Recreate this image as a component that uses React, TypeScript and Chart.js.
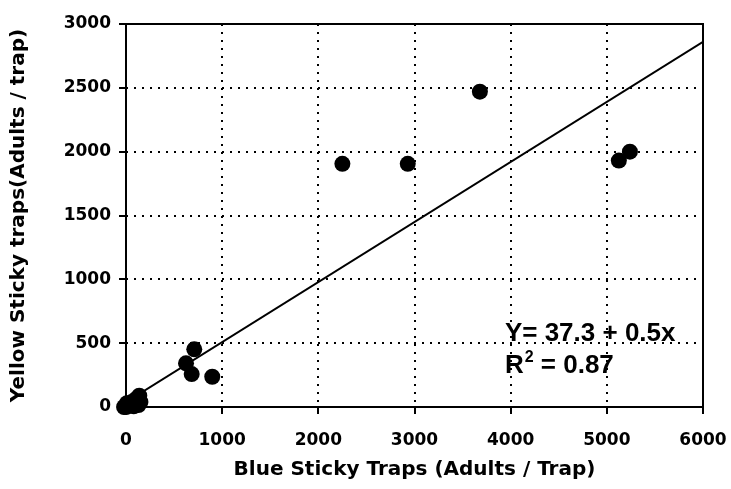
import React, { useEffect, useRef } from "react";
import { Chart, registerables } from "chart.js";

Chart.register(...registerables);

const blueX = [2250, 2930, 3680, 5125, 5240, 710, 624, 683, 897, 138, 100, 60, 20, 0, 40, 110, 130, 80, 10, -20, 150];
const yellowY = [1905, 1905, 2470, 1930, 2000, 452, 342, 258, 237, 89, 60, 40, 10, 0, 15, 20, 15, 5, 30, 0, 40];

const fitX = [0, 6000];
const fitY = [37.3, 2860];

const xTitle = "Blue Sticky Traps (Adults / Trap)";
const yTitle = "Yellow Sticky traps(Adults / trap)";
const eqText = "Y= 37.3 + 0.5x";
const r2Value = " = 0.87";

const ANNO_X = 3940;
const ANNO_Y1 = 520;
const ANNO_Y2 = 266;

const TICK_FONT = { family: "'DejaVu Sans'", size: 17, weight: "bold" as const };
const TITLE_FONT = { family: "'DejaVu Sans'", size: 20, weight: "bold" as const };

const framePlugin = {
  id: "frame",
  beforeDatasetsDraw(chart: any) {
    const { ctx, chartArea } = chart;
    ctx.save();
    ctx.strokeStyle = "#000";
    ctx.lineWidth = 2;
    ctx.setLineDash([]);
    ctx.strokeRect(chartArea.left, chartArea.top, chartArea.right - chartArea.left, chartArea.bottom - chartArea.top);
    ctx.restore();
  },
};

const annoPlugin = {
  id: "anno",
  afterDatasetsDraw(chart: any) {
    const { ctx, scales } = chart;
    const x = scales.x.getPixelForValue(ANNO_X);
    const y1 = scales.y.getPixelForValue(ANNO_Y1);
    const y2 = scales.y.getPixelForValue(ANNO_Y2);
    ctx.save();
    ctx.fillStyle = "#000";
    ctx.textBaseline = "alphabetic";
    ctx.textAlign = "left";
    ctx.font = "bold 26px 'Liberation Sans', Arial";
    ctx.fillText(eqText, x, y1);
    ctx.fillText("R", x, y2);
    const rw = ctx.measureText("R").width;
    ctx.font = "bold 16px 'Liberation Sans', Arial";
    ctx.fillText("2", x + rw + 1, y2 - 11);
    const sw = ctx.measureText("2").width;
    ctx.font = "bold 26px 'Liberation Sans', Arial";
    ctx.fillText(r2Value, x + rw + sw + 1, y2);
    ctx.restore();
  },
};

export default function App() {
  const ref = useRef<HTMLCanvasElement | null>(null);
  useEffect(() => {
    if (!ref.current) return;
    const edgeColor = (n: number) => (c: any) =>
      c.index === 0 || c.index === n ? "rgba(0,0,0,0)" : "#000";
    const chart = new Chart(ref.current, {
      type: "scatter",
      data: {
        datasets: [
          {
            type: "line",
            data: fitX.map((x, i) => ({ x, y: fitY[i] })),
            borderColor: "#000",
            borderWidth: 2,
            pointRadius: 0,
            fill: false,
          } as any,
          {
            data: blueX.map((x, i) => ({ x, y: yellowY[i] })),
            backgroundColor: "#000",
            borderColor: "#000",
            pointRadius: 8,
            pointBorderWidth: 0,
            clip: false,
          } as any,
        ],
      },
      options: {
        responsive: false,
        animation: false,
        layout: { padding: { top: 24, right: 28, left: 0, bottom: 0 } },
        plugins: { legend: { display: false }, tooltip: { enabled: false } },
        scales: {
          x: {
            type: "linear",
            min: 0,
            max: 6000,
            afterFit: (s: any) => {
              s.height = 82;
              s.paddingLeft = 0;
              s.paddingRight = 0;
            },
            ticks: {
              stepSize: 1000,
              color: "#000",
              font: TICK_FONT,
              padding: 16,
              maxRotation: 0,
              callback: (v: any) => String(v),
            },
            grid: {
              color: edgeColor(6),
              lineWidth: 2,
              tickLength: 7,
              tickColor: "#000",
              tickWidth: 2,
              tickBorderDash: [],
            },
            border: { display: false, dash: [2, 6] },
            title: { display: true, text: xTitle, color: "#000", font: TITLE_FONT, padding: { top: 0, bottom: 7 } },
          },
          y: {
            type: "linear",
            min: 0,
            max: 3000,
            afterFit: (s: any) => {
              s.width = 126;
              s.paddingTop = 0;
              s.paddingBottom = 0;
            },
            ticks: {
              stepSize: 500,
              color: "#000",
              font: TICK_FONT,
              padding: 8,
              callback: (v: any) => String(v),
            },
            grid: {
              color: edgeColor(6),
              lineWidth: 2,
              tickLength: 7,
              tickColor: "#000",
              tickWidth: 2,
              tickBorderDash: [],
            },
            border: { display: false, dash: [2, 6] },
            title: { display: true, text: yTitle, color: "#000", font: TITLE_FONT, padding: { top: 7, bottom: 0 } },
          },
        },
      },
      plugins: [framePlugin, annoPlugin],
    });
    return () => chart.destroy();
  }, []);
  return (
    <div style={{ position: "fixed", left: 0, top: 0, width: 731, height: 489, background: "#fff" }}>
      <canvas ref={ref} width={731} height={489} />
    </div>
  );
}
